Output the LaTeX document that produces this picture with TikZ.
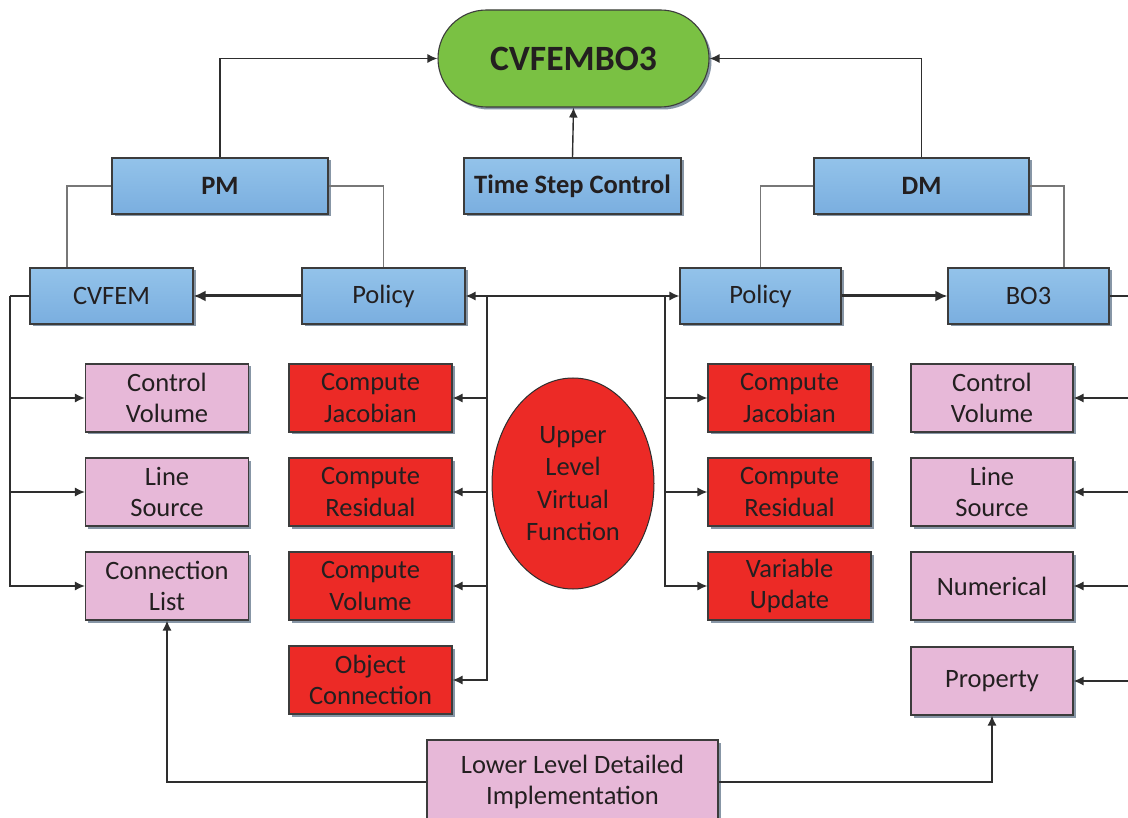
\documentclass[tikz,border=0pt]{standalone}
\usepackage{fontspec}
\setmainfont{Carlito}
\usetikzlibrary{arrows.meta,shapes.geometric,shadows}

\definecolor{inkc}{HTML}{231F20}
\definecolor{edgec}{HTML}{3C3C3C}
\definecolor{linec}{HTML}{2E2E2E}
\definecolor{linkc}{HTML}{777777}
\definecolor{bluetop}{HTML}{93C3EA}
\definecolor{bluebot}{HTML}{7AAEDF}
\definecolor{greenc}{HTML}{7AC143}
\definecolor{redc}{HTML}{EC2A26}
\definecolor{pinkc}{HTML}{E7B8D8}
\definecolor{shadc}{HTML}{8796A6}

\tikzset{
  boxbase/.style={draw=edgec, line width=1.1pt, inner sep=0pt, align=center,
    text=inkc, font=\fontsize{26.5}{31.5}\selectfont,
    drop shadow={shadow xshift=2.5pt, shadow yshift=-2.5pt, fill=shadc, opacity=1}},
  bluebox/.style={boxbase, rectangle, top color=bluetop, bottom color=bluebot,
    minimum height=56pt},
  boldblue/.style={bluebox, font=\bfseries\fontsize{26.5}{31.5}\selectfont},
  redbox/.style={boxbase, rectangle, fill=redc, minimum width=163pt, minimum height=68pt},
  pinkbox/.style={boxbase, rectangle, fill=pinkc, minimum width=163pt, minimum height=68pt},
  conn/.style={draw=linec, line width=1.4pt},
  arr/.style={conn, -{Latex[length=10pt,width=9pt]}},
  thickarr/.style={draw=linec, line width=3pt, -{Latex[length=12pt,width=11pt]}},
  link/.style={draw=linkc, line width=1.2pt},
}

\begin{document}
\begin{tikzpicture}[x=1pt,y=-1pt]
\clip (0,0) rectangle (1128,818);
\fill[white] (0,0) rectangle (1128,818);

% top level
\node[boxbase, fill=greenc, rounded corners=48.5pt, minimum width=271pt, minimum height=97pt,
  font=\bfseries\fontsize{35.6}{40}\selectfont] (top) at (573.5,58.5) {CVFEMBO3};

% managers
\node[boldblue, minimum width=216pt] (pm) at (220,186) {PM};
\node[boldblue, minimum width=217pt] (tsc) at (572.5,186) {Time Step Control};
\node[boldblue, minimum width=215pt] (dm) at (921.5,186) {DM};

% second row
\node[bluebox, minimum width=163pt] (cvfem) at (111.5,296) {CVFEM};
\node[bluebox, minimum width=163pt] (polL) at (383.5,296) {Policy};
\node[bluebox, minimum width=161pt] (polR) at (760.5,296) {Policy};
\node[bluebox, minimum width=161pt] (bo3) at (1028.5,296) {BO3};

% CVFEM components
\node[pinkbox] (cvL) at (167,398) {Control\\Volume};
\node[pinkbox] (lsL) at (167,492) {Line\\Source};
\node[pinkbox] (clL) at (167,586) {Connection\\List};

% PM policy functions
\node[redbox] (cjL) at (370.5,398) {Compute\\Jacobian};
\node[redbox] (crL) at (370.5,492) {Compute\\Residual};
\node[redbox] (cvol) at (370.5,586) {Compute\\Volume};
\node[redbox] (ocon) at (370.5,680) {Object\\Connection};

% DM policy functions
\node[redbox] (cjR) at (789.5,398) {Compute\\Jacobian};
\node[redbox] (crR) at (789.5,492) {Compute\\Residual};
\node[redbox] (vup) at (789.5,586) {Variable\\Update};

% BO3 components
\node[pinkbox, minimum width=162pt] (cvR) at (992,398) {Control\\Volume};
\node[pinkbox, minimum width=162pt] (lsR) at (992,492) {Line\\Source};
\node[pinkbox, minimum width=162pt] (num) at (992,586) {Numerical};
\node[pinkbox, minimum width=162pt] (prop) at (992,681) {Property};

% virtual function label
\node[ellipse, draw=linec, line width=1pt, fill=redc, minimum width=162pt, minimum height=211pt,
  inner sep=0pt, align=center, text=inkc, font=\fontsize{26.5}{32.5}\selectfont]
  (vf) at (573,483.5) {Upper\\Level\\Virtual\\Function};

% implementation box
\node[pinkbox, minimum width=291pt, minimum height=84pt] (low) at (572.5,782)
  {Lower Level Detailed\\Implementation};

% manager links
\draw[arr] (pm.north) |- (top.west);
\draw[arr] (dm.north) |- (top.east);
\draw[arr] (tsc.north) -- (top.south);
\draw[link] (pm.west) -| ([xshift=-44.5pt]cvfem.north);
\draw[link] (pm.east) -| (polL.north);
\draw[link] (dm.west) -| (polR.north);
\draw[link] (dm.east) -| ([xshift=35.5pt]bo3.north);

% policy hand-offs
\draw[thickarr] (polL.west) -- (cvfem.east);
\draw[thickarr] (polR.east) -- (bo3.west);

% buses
\coordinate (busL) at (487,296);
\coordinate (busR) at (665,296);
\coordinate (busCV) at (10,296);
\coordinate (busBO) at (1145,296);

\draw[conn, {Latex[length=10pt,width=9pt]}-{Latex[length=10pt,width=9pt]}] (polL.east) -- (polR.west);
\draw[arr] (busL) |- (cjL.east);
\draw[arr] (busL) |- (crL.east);
\draw[arr] (busL) |- (cvol.east);
\draw[arr] (busL) |- (ocon.east);
\draw[arr] (busR) |- (cjR.west);
\draw[arr] (busR) |- (crR.west);
\draw[arr] (busR) |- (vup.west);

\draw[conn] (cvfem.west) -- (busCV);
\draw[arr] (busCV) |- (cvL.west);
\draw[arr] (busCV) |- (lsL.west);
\draw[arr] (busCV) |- (clL.west);

\draw[conn] (bo3.east) -- (busBO);
\draw[arr] (busBO) |- (cvR.east);
\draw[arr] (busBO) |- (lsR.east);
\draw[arr] (busBO) |- (num.east);
\draw[arr] (busBO) |- (prop.east);

% implementation links
\draw[arr] (low.west) -| (clL.south);
\draw[arr] (low.east) -| (prop.south);
\end{tikzpicture}
\end{document}
